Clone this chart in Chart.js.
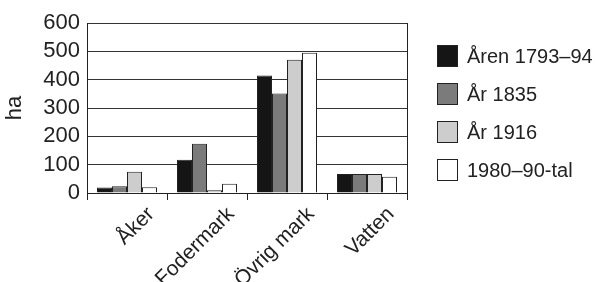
<!DOCTYPE html>
<html>
<head>
<meta charset="utf-8">
<script src="https://cdn.jsdelivr.net/npm/chart.js@4"></script>
<style>
  body { margin: 0; background: #fff; }
  #wrap { position: relative; width: 604px; height: 282px; }
  #legend { position: absolute; left: 437px; top: 37px; font-family: "Liberation Sans", Arial, sans-serif; font-size: 20px; color: #222; }
  #legend div { height: 38px; display: flex; align-items: center; white-space: nowrap; }
  #legend span.box { width: 21px; height: 22px; border: 1px solid #222; margin-right: 9px; box-sizing: border-box; }
</style>
</head>
<body>
<div id="wrap">
  <canvas id="chart" width="604" height="282"></canvas>
  <div id="legend"></div>
</div>
<script>
// Markanvändning, ha
const categories = ['Åker', 'Fodermark', 'Övrig mark', 'Vatten']
const seriesNames = ['Åren 1793–94', 'År 1835', 'År 1916', '1980–90-tal']
const aren1793 = [19, 117, 415, 67]
const ar1835 = [24, 174, 351, 67]
const ar1916 = [75, 10, 470, 67]
const tal1980 = [20, 33, 495, 57]
const yTicks = [0, 100, 200, 300, 400, 500, 600]
const colors = ['#151515', '#7b7b7b', '#cdcdcd', '#ffffff']

const values = [aren1793, ar1835, ar1916, tal1980]
const font = "'Liberation Sans', Arial, sans-serif"

const data = {
    labels: categories,
    datasets: seriesNames.map((name, i) => ({
        label: name,
        data: values[i],
        backgroundColor: colors[i],
        borderColor: '#222',
        borderWidth: 1,
        categoryPercentage: 0.75,
        barPercentage: 1
    }))
}

const config = {
    type: 'bar',
    data,
    options: {
        responsive: false,
        animation: false,
        layout: { padding: { top: 23, right: 197, left: 0, bottom: 0 } },
        plugins: {
            legend: { display: false },
            tooltip: { enabled: false }
        },
        scales: {
            x: {
                grid: { drawOnChartArea: false, color: '#222', tickLength: 7, offset: true },
                border: { color: '#222' },
                ticks: {
                    color: '#222',
                    font: { family: font, size: 21 },
                    maxRotation: 45,
                    minRotation: 45,
                    padding: 2,
                    labelOffset: 24
                },
                afterFit: s => { s.height = 89 }
            },
            y: {
                min: 0,
                max: 600,
                afterBuildTicks: s => { s.ticks = yTicks.map(v => ({ value: v })) },
                grid: { color: '#333', drawTicks: false },
                border: { color: '#222' },
                ticks: { color: '#222', font: { family: font, size: 22 }, padding: 7, autoSkip: false },
                title: { display: true, text: 'ha', color: '#222', font: { family: font, size: 22 }, padding: 2 },
                afterFit: s => { s.width = 87 }
            },
            y2: {
                position: 'right',
                min: 0,
                max: 600,
                grid: { drawOnChartArea: false, drawTicks: false },
                border: { display: true, color: '#222' },
                ticks: { display: false },
                afterFit: s => { s.width = 0 }
            }
        }
    }
}

const myChart = new Chart(document.getElementById('chart'), config)

let legend = document.getElementById('legend')
seriesNames.forEach((name, i) => {
    let row = document.createElement('div')
    let box = document.createElement('span')
    box.className = 'box'
    box.style.background = colors[i]
    row.appendChild(box)
    row.appendChild(document.createTextNode(name))
    legend.appendChild(row)
})
</script>
</body>
</html>
